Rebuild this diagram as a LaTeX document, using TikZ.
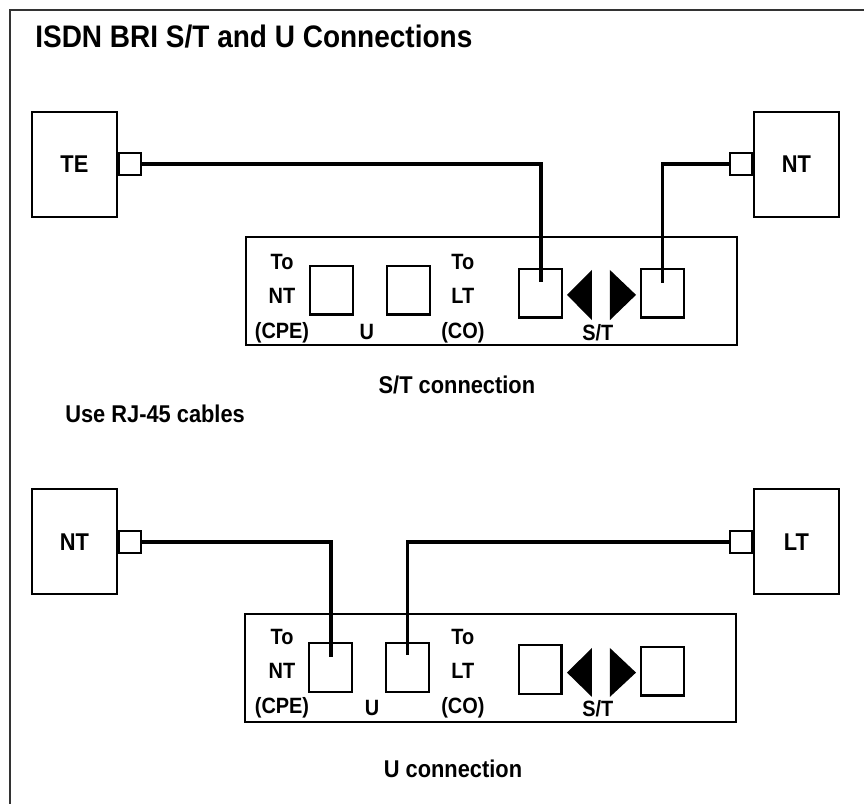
\documentclass[tikz,border=0pt]{standalone}
\usepackage{fontspec}
\setmainfont{Liberation Sans}[FakeStretch=0.9]
\usetikzlibrary{positioning}

\begin{document}
\begin{tikzpicture}[
	every node/.style={font=\bfseries, inner sep=0pt},
	unit/.style={draw, line width=2.1pt, minimum width=2.83cm, minimum height=3.5cm, font=\bfseries\fontsize{23}{26}\selectfont},
	port/.style={draw, line width=2pt, minimum size=0.73cm},
	device/.style={draw, line width=2.4pt, minimum width=16.37cm, minimum height=3.6cm},
	jack/.style={draw, line width=2pt, minimum width=1.43cm, minimum height=1.63cm},
	jacklabel/.style={align=center, font=\bfseries\fontsize{21}{33}\selectfont},
	caption/.style={font=\bfseries\fontsize{23}{26}\selectfont},
	wire/.style={line width=3.6pt},
	]
				\useasboundingbox (0,0) rectangle (28.8,26.8);
				
				% Frame and heading
				\draw[line width=1.9pt, black!80] (0.33,0) -- (0.33,26.47) -- (28.8,26.47);
				\node[anchor=base west, font=\bfseries\fontsize{29.5}{32}\selectfont] (title) at (1.17,25.2)
				{ISDN BRI S/T and U Connections};
				
				% S/T connection: end units
				\node[unit] (te) at (2.48,21.32) {TE};
				\node[port, right=0pt of te] (tep) {};
				\node[unit] (nt) at (26.55,21.32) {NT};
				\node[port, left=0pt of nt] (ntp) {};
				
				% S/T connection: adapter
				\node[device] (dev1) at (16.38,17.1) {};
				\node[jack] (ua1) at (11.05,17.13) {};
				\node[jack] (ub1) at (13.62,17.13) {};
				\node[jack] (sa1) at (18.02,17.03) {};
				\node[jack] (sb1) at (22.08,17.03) {};
				\fill (18.9,16.97) -- (19.73,17.8) -- (19.73,16.13) -- cycle;
				\fill (21.2,16.97) -- (20.33,17.8) -- (20.33,16.13) -- cycle;
				\node[jacklabel] (cpe1) at (9.4,16.85) {To\\NT\\(CPE)};
				\node[jacklabel] (u1) at (12.23,15.72) {U};
				\node[jacklabel] (co1) at (15.43,16.85) {To\\LT\\(CO)};
				\node[jacklabel] (st1) at (19.93,15.72) {S/T};
				\node[caption] (cap1) at (15.23,13.97) {S/T connection};
				
				\node[caption, anchor=west] (note) at (2.17,13.0) {Use RJ-45 cables};
				
				% U connection: end units
				\node[unit] (nt2) at (2.48,8.74) {NT};
				\node[port, right=0pt of nt2] (nt2p) {};
				\node[unit] (lt) at (26.55,8.74) {LT};
				\node[port, left=0pt of lt] (ltp) {};
				
				% U connection: adapter
				\node[device] (dev2) at (16.35,4.53) {};
				\node[jack] (ua2) at (11.02,4.55) {};
				\node[jack] (ub2) at (13.58,4.55) {};
				\node[jack] (sa2) at (18.0,4.47) {};
				\node[jack] (sb2) at (22.08,4.43) {};
				\fill (18.9,4.38) -- (19.73,5.2) -- (19.73,3.57) -- cycle;
				\fill (21.2,4.38) -- (20.33,5.2) -- (20.33,3.57) -- cycle;
				\node[jacklabel] (cpe2) at (9.4,4.35) {To\\NT\\(CPE)};
				\node[jacklabel] (u2) at (12.4,3.2) {U};
				\node[jacklabel] (co2) at (15.43,4.35) {To\\LT\\(CO)};
				\node[jacklabel] (st2) at (19.93,3.17) {S/T};
				\node[caption] (cap2) at (15.1,1.17) {U connection};
				
				% Cables
				\draw[wire] (tep.east) -| ([yshift=0.37cm]sa1.center);
				\draw[wire] (ntp.west) -| ([yshift=0.35cm]sb1.center);
				\draw[wire] (nt2p.east) -| ([yshift=0.35cm]ua2.center);
				\draw[wire] (ltp.west) -| ([yshift=0.4cm]ub2.center);
\end{tikzpicture}
\end{document}
